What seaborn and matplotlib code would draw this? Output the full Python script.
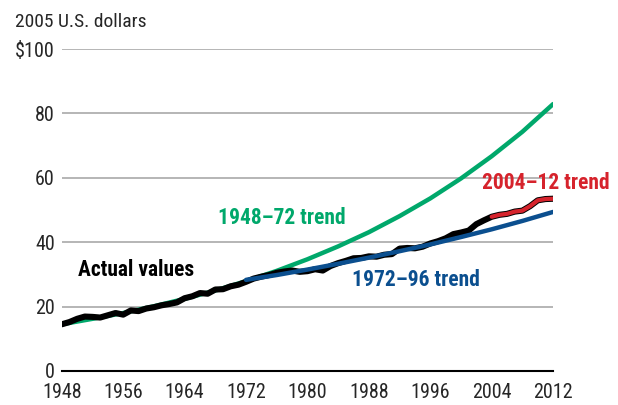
import numpy as np
import pandas as pd
import matplotlib
matplotlib.use("Agg")
import matplotlib.pyplot as plt
import seaborn as sns

# DATA
years = list(range(1948, 2013))
actual = [14.5, 15.2, 16.2, 16.9, 16.8, 16.6, 17.3, 18.0, 17.5, 18.8,
          18.6, 19.4, 19.8, 20.4, 20.8, 21.3, 22.6, 23.2, 24.2, 24.0,
          25.3, 25.4, 26.3, 26.8, 27.7, 28.7, 29.3, 29.8, 30.5, 30.9,
          31.2, 30.8, 31.0, 31.6, 31.2, 32.6, 33.5, 34.2, 35.0, 35.1,
          35.6, 35.5, 36.1, 36.3, 38.0, 38.2, 38.1, 38.6, 39.6, 40.3,
          41.2, 42.5, 43.0, 43.6, 45.6, 46.8, 47.9, 48.5, 48.8, 49.5,
          49.8, 51.2, 53.0, 53.4, 53.5]

trend_4872_years = list(range(1948, 2013, 4))
trend_4872 = [14.5, 16.2, 18.0, 20.1, 22.4, 25.0, 27.9, 31.1, 34.7,
              38.7, 43.1, 48.1, 53.6, 59.8, 66.7, 74.3, 82.9]

trend_7296_years = list(range(1972, 2013, 4))
trend_7296 = [28.3, 29.8, 31.5, 33.3, 35.2, 37.2, 39.3, 41.6, 44.0, 46.6, 49.4]

trend_0412_years = list(range(2004, 2013))
trend_0412 = [47.9, 48.5, 48.8, 49.5, 49.8, 51.2, 53.0, 53.4, 53.5]

xticks = list(range(1948, 2013, 8))
yticks = [0, 20, 40, 60, 80, 100]
ytick_labels = ["0", "20", "40", "60", "80", "$100"]

GREEN = "#00a86b"
BLUE = "#0b4f8f"
RED = "#d6232c"

sns.set_style("white")
plt.rcParams["font.family"] = ["Liberation Sans Narrow", "Roboto Condensed",
                               "Liberation Sans", "DejaVu Sans"]

df_act = pd.DataFrame({"year": years, "value": actual})
df_g = pd.DataFrame({"year": trend_4872_years, "value": trend_4872})
df_b = pd.DataFrame({"year": trend_7296_years, "value": trend_7296})
df_r = pd.DataFrame({"year": trend_0412_years, "value": trend_0412})

fig = plt.figure(figsize=(6.18, 4.05), dpi=100)
ax = fig.add_axes([0.100, 0.084, 0.795, 0.795])

for y in yticks[1:]:
    ax.axhline(y, color="#a9a9a9", lw=1.2, zorder=0)

sns.lineplot(data=df_g, x="year", y="value", ax=ax, color=GREEN, lw=3.2, zorder=2)
sns.lineplot(data=df_act, x="year", y="value", ax=ax, color="black", lw=4.4, zorder=3)
sns.lineplot(data=df_b, x="year", y="value", ax=ax, color=BLUE, lw=3.2, zorder=4)
sns.lineplot(data=df_r, x="year", y="value", ax=ax, color=RED, lw=3.0, zorder=5)

ax.set_xlim(1948, 2012)
ax.set_ylim(0, 100)
ax.set_xticks(xticks)
ax.set_yticks(yticks)
ax.set_yticklabels(ytick_labels)
ax.set_xlabel("")
ax.set_ylabel("")
for s in ["top", "right", "left"]:
    ax.spines[s].set_visible(False)
ax.spines["bottom"].set_color("black")
ax.spines["bottom"].set_linewidth(1.5)
ax.tick_params(axis="x", direction="in", length=6, width=1.2, color="black",
               labelsize=14.5, pad=9)
ax.tick_params(axis="y", length=0, labelsize=14.5, pad=5)

bold = dict(fontsize=15.5, fontweight="bold")
ax.text(1950.1, 31.4, "Actual values", color="black", ha="left", va="center", **bold)
ax.text(1968.3, 47.5, "1948\u201372 trend", color=GREEN, ha="left", va="center", **bold)
ax.text(1985.8, 28.3, "1972\u201396 trend", color=BLUE, ha="left", va="center", **bold)
ax.text(2002.8, 58.4, "2004\u201312 trend", color=RED, ha="left", va="center", **bold)

fig.text(0.024, 0.945, "2005 U.S. dollars", fontsize=14, ha="left", va="center")

fig.savefig("out.png", dpi=100)
